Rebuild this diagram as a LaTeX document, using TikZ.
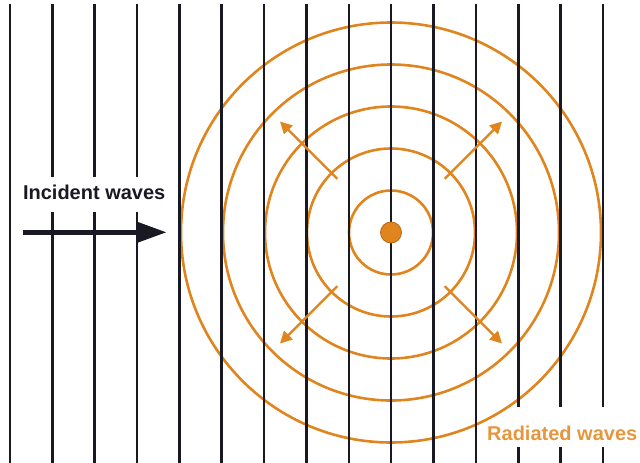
\documentclass[tikz,border=0pt]{standalone}
\usepackage{fontspec}
\setmainfont{Liberation Sans}
\usetikzlibrary{arrows.meta,calc}
\definecolor{waveorange}{RGB}{224,132,30}
\definecolor{labelorange}{RGB}{230,150,60}
\definecolor{inkblack}{RGB}{25,25,35}

\begin{document}
\begin{tikzpicture}[x=1pt,y=-1pt,>=Stealth,
    wavefront/.style={line width=2.6pt, inkblack},
    ring/.style={line width=2.6pt, waveorange},
    spread/.style={-{Triangle[length=12pt,width=12pt]}, line width=2.4pt, waveorange},
    caption/.style={inner sep=0pt, font=\fontsize{20}{24}\selectfont\bfseries}]
    % Rahmen
    \useasboundingbox (0,0) rectangle (640,463);
    \def\dx{42.35}

    % Streuzentrum
    \coordinate (c) at (391,232.5);

    % Kreiswellen
    \foreach \r in {1,...,5}
        \draw[ring] (c) circle ({42*\r});

    % Ebene Wellenfronten (mit Luecken fuer die Beschriftungen)
    \foreach \i in {0,4,5,...,11}
        \draw[wavefront] ({10+\dx*\i},4) -- ({10+\dx*\i},463);
    \foreach \i in {1,2,3} {
        \draw[wavefront] ({10+\dx*\i},4) -- ({10+\dx*\i},177);
        \draw[wavefront] ({10+\dx*\i},212) -- ({10+\dx*\i},463);
    }
    \foreach \i in {12,13,14} {
        \draw[wavefront] ({10+\dx*\i},4) -- ({10+\dx*\i},407);
        \draw[wavefront] ({10+\dx*\i},447) -- ({10+\dx*\i},463);
    }

    % Abgestrahlte Richtungen
    \foreach \a in {45,135,225,315} {
        \coordinate (from\a) at ($(c)+(\a:76)$);
        \coordinate (to\a) at ($(c)+(\a:157)$);
        \draw[spread] (from\a) -- (to\a);
    }

    % Streuzentrum (Punkt)
    \node[circle, fill=waveorange, draw=waveorange!80!black, line width=0.8pt,
          minimum size=21pt, inner sep=0pt] (src) at (c) {};

    % Einfallende Welle
    \node[caption, anchor=base, text=inkblack] (inc) at (94.2,199) {Incident waves};
    \coordinate (incA) at (23,232.3);
    \coordinate (incB) at (166.7,232.3);
    \draw[line width=5pt, inkblack, -{Triangle[length=30pt,width=20pt]}] (incA) -- (incB);

    % Beschriftung
    \node[caption, anchor=base west, text=labelorange] (rad) at (487,440.7) {Radiated waves};
\end{tikzpicture}
\end{document}
